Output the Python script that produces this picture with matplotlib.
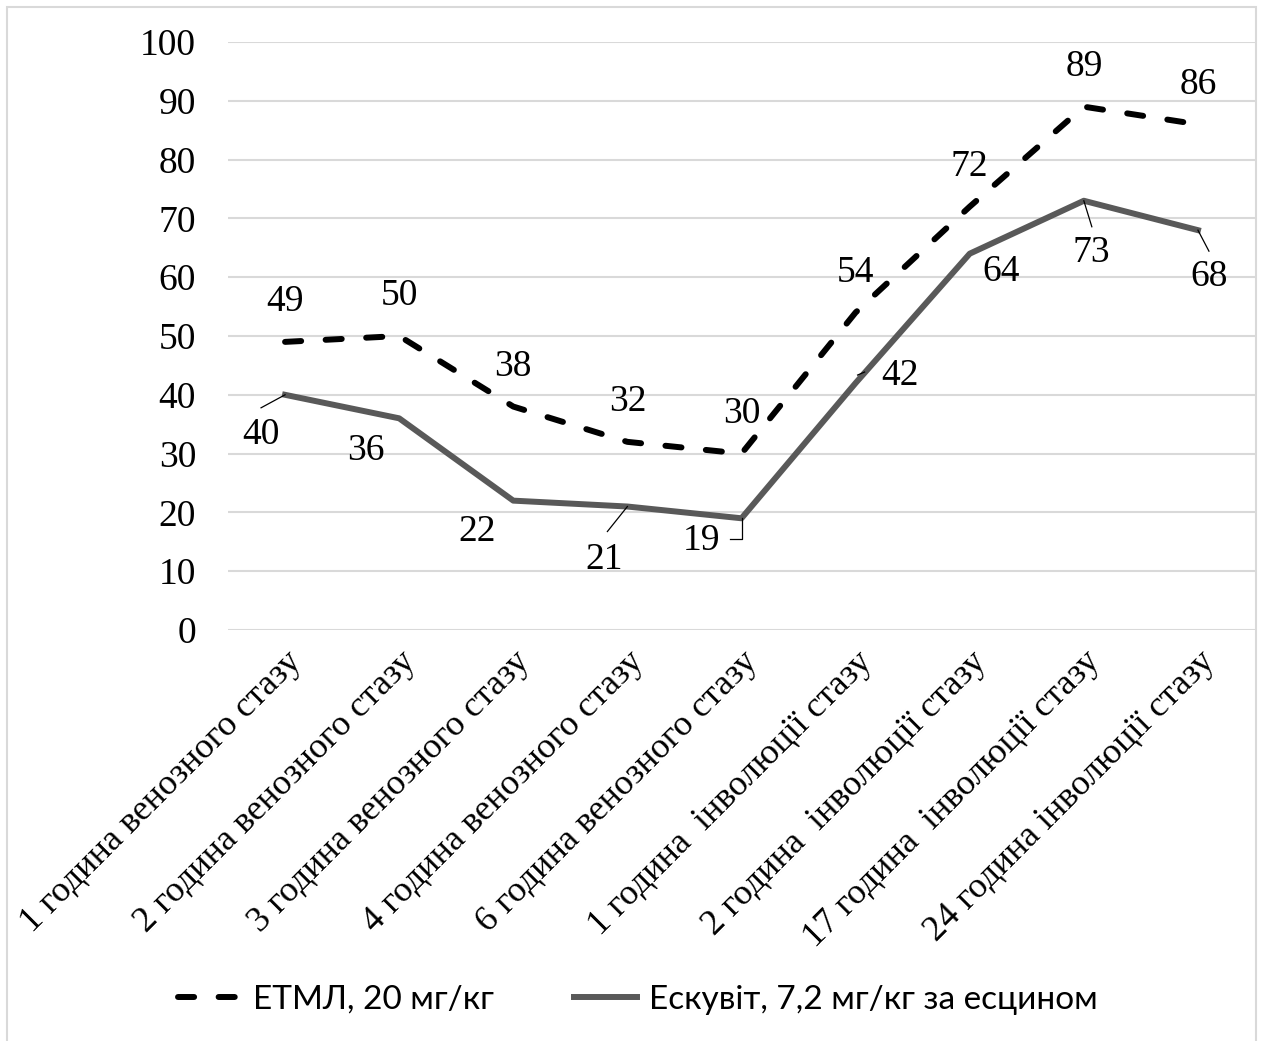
import matplotlib.pyplot as plt
from matplotlib.patches import Rectangle
from matplotlib.transforms import ScaledTranslation

categories = [
    "1 година венозного стазу",
    "2 година венозного стазу",
    "3 година венозного стазу",
    "4 година венозного стазу",
    "6 година венозного стазу",
    "1 година  інволюції стазу",
    "2 година  інволюції стазу",
    "17 година  інволюції стазу",
    "24 година інволюції стазу",
]
etml = [49, 50, 38, 32, 30, 54, 72, 89, 86]
eskuvit = [40, 36, 22, 21, 19, 42, 64, 73, 68]

# label offsets in pixels (dx, dy up) from each point
etml_offsets = [(0, 40)] * len(etml)
eskuvit_offsets = [(-24, -40), (-33, -32), (-36, -31), (-23, -53), (-40, -22),
                   (44, 7), (31, -18), (7, -52), (11, -47)]
# leader lines, vertices in pixel offsets from the point
leaders = {
    0: [(-24, -13), (0, 0)],
    3: [(-20, -25), (0, 0)],
    4: [(0, 0), (0, -21), (-12, -21)],
    5: [(2, 8), (9, 11)],
    7: [(0, 0), (8, -26)],
    8: [(0, 0), (11, -21)],
}

serif = "Liberation Serif"
plt.rcParams["font.family"] = serif

fig = plt.figure(figsize=(12.61, 10.41), dpi=100)
ax = fig.add_axes([228 / 1261, 1 - 630 / 1041, 1027 / 1261, 588 / 1041])

x = list(range(len(categories)))
ax.plot(x, etml, color="black", lw=4.3, dashes=(2.7, 4.1), dash_capstyle="round",
        label="ЕТМЛ, 20 мг/кг", zorder=3)
ax.plot(x, eskuvit, color="#595959", lw=4.3,
        label="Ескувіт, 7,2 мг/кг за есцином", zorder=3)

for i, v in enumerate(etml):
    ax.annotate(str(v), (i, v), xytext=etml_offsets[i], textcoords="offset pixels",
                ha="center", va="center", fontsize=27, family=serif, zorder=4)
for i, v in enumerate(eskuvit):
    ax.annotate(str(v), (i, v), xytext=eskuvit_offsets[i], textcoords="offset pixels",
                ha="center", va="center", fontsize=27, family=serif, zorder=4)

for i, verts in leaders.items():
    trans = fig.dpi_scale_trans + ScaledTranslation(i, eskuvit[i], ax.transData)
    xs = [p[0] / fig.dpi for p in verts]
    ys = [p[1] / fig.dpi for p in verts]
    ax.plot(xs, ys, color="black", lw=0.9, transform=trans, zorder=4)

ax.set_xlim(-0.5, len(categories) - 0.5)
ax.set_ylim(0, 100)
ax.set_yticks(range(0, 101, 10))
ax.grid(axis="y", color="#d9d9d9", lw=1.5)
ax.set_axisbelow(True)
for s in ax.spines.values():
    s.set_visible(False)
ax.tick_params(length=0, labelsize=27)
ax.tick_params(axis="y", pad=23)
ax.set_xticks(x)
ax.set_xticklabels(categories, rotation=45, ha="right", rotation_mode="anchor",
                   fontsize=26)
ax.tick_params(axis="x", pad=11)

fig.legend(loc="center", bbox_to_anchor=(638 / 1261, 1 - 1000 / 1041), ncol=2,
           frameon=False, prop={"family": "Lato", "size": 24},
           handlelength=1.9, handletextpad=0.35, columnspacing=2.4)

fig.patches.append(Rectangle((7 / 1261, -0.05), 1249 / 1261, 1 - 7 / 1041 + 0.05,
                             transform=fig.transFigure, fill=False,
                             edgecolor="#d9d9d9", lw=1.5))

fig.savefig("out.png", dpi=100, facecolor="white")
